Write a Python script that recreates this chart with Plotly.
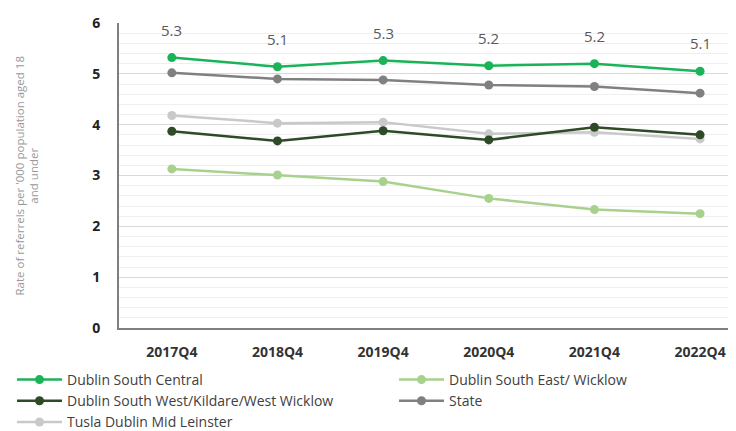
import plotly.graph_objects as go

categories = ["2017Q4", "2018Q4", "2019Q4", "2020Q4", "2021Q4", "2022Q4"]
dublin_south_central = [5.32, 5.14, 5.26, 5.16, 5.20, 5.05]
dublin_south_east_wicklow = [3.13, 3.01, 2.88, 2.55, 2.33, 2.25]
dublin_sw_kildare_ww = [3.87, 3.68, 3.88, 3.70, 3.95, 3.80]
state = [5.02, 4.90, 4.88, 4.78, 4.75, 4.62]
tusla_dml = [4.18, 4.03, 4.05, 3.82, 3.85, 3.72]
dsc_labels = ["5.3", "5.1", "5.3", "5.2", "5.2", "5.1"]

series = [
    ("Dublin South Central", dublin_south_central, "#1bb358", "legend"),
    ("Dublin South East/ Wicklow", dublin_south_east_wicklow, "#a9d18e", "legend2"),
    ("Dublin South West/Kildare/West Wicklow", dublin_sw_kildare_ww, "#2f4a26", "legend"),
    ("State", state, "#808080", "legend2"),
    ("Tusla Dublin Mid Leinster", tusla_dml, "#c9c9c9", "legend"),
]

fig = go.Figure()
draw_order = [4, 2, 1, 3, 0]
traces = {}
for i, (name, vals, col, lg) in enumerate(series):
    traces[i] = go.Scatter(
        x=categories, y=vals, name=name, mode="lines+markers",
        line=dict(color=col, width=2.5),
        marker=dict(color=col, size=9),
        legendrank=i + 1, legend=lg,
    )
for i in draw_order:
    fig.add_trace(traces[i])

for c, v, t in zip(categories, dublin_south_central, dsc_labels):
    fig.add_annotation(x=c, y=v, text=t, showarrow=False, yshift=28,
                       font=dict(size=15, color="#595959", family="Open Sans"))

W, H = 728, 423
PLOT_L = 111
PLOT_W = W - PLOT_L
fig.add_annotation(
    text="Rate of referrels per '000 population aged 18<br>and under",
    textangle=-90, showarrow=False,
    xref="paper", yref="paper", x=(18 - PLOT_L) / PLOT_W, y=0.5,
    xanchor="center", yanchor="middle",
    font=dict(size=11.5, color="#999999", family="Open Sans"),
)

legend_common = dict(orientation="v", xanchor="left", yanchor="top",
                     xref="container", yref="container",
                     font=dict(size=14, color="#404040", family="Open Sans"),
                     tracegroupgap=0, bgcolor="rgba(0,0,0,0)",
                     traceorder="normal", itemwidth=45)
fig.update_layout(
    width=W, height=H,
    margin=dict(l=PLOT_L, r=0, t=15, b=103, autoexpand=False),
    plot_bgcolor="white", paper_bgcolor="white",
    font=dict(family="Open Sans", color="#404040"),
    showlegend=True,
    legend=dict(x=4 / W, y=1 - 356 / H, **legend_common),
    legend2=dict(x=386 / W, y=1 - 356 / H, **legend_common),
)
fig.update_xaxes(
    type="category", range=[-0.5, 5.34],
    showline=True, linecolor="#7f7f7f", linewidth=2,
    showgrid=False, ticks="", ticklabelstandoff=10,
    tickfont=dict(size=14, color="#333333", family="Open Sans", weight="bold"),
)
fig.update_yaxes(
    range=[0, 6], dtick=1,
    showline=True, linecolor="#7f7f7f", linewidth=2,
    showgrid=True, gridcolor="#d9d9d9", gridwidth=1,
    minor=dict(dtick=0.2, showgrid=True, gridcolor="#efefef", gridwidth=1),
    zeroline=False, ticks="", ticklen=0, ticklabelstandoff=14,
    tickfont=dict(size=14, color="#222222", family="Open Sans", weight="bold"),
)

fig.write_html("out.html")
